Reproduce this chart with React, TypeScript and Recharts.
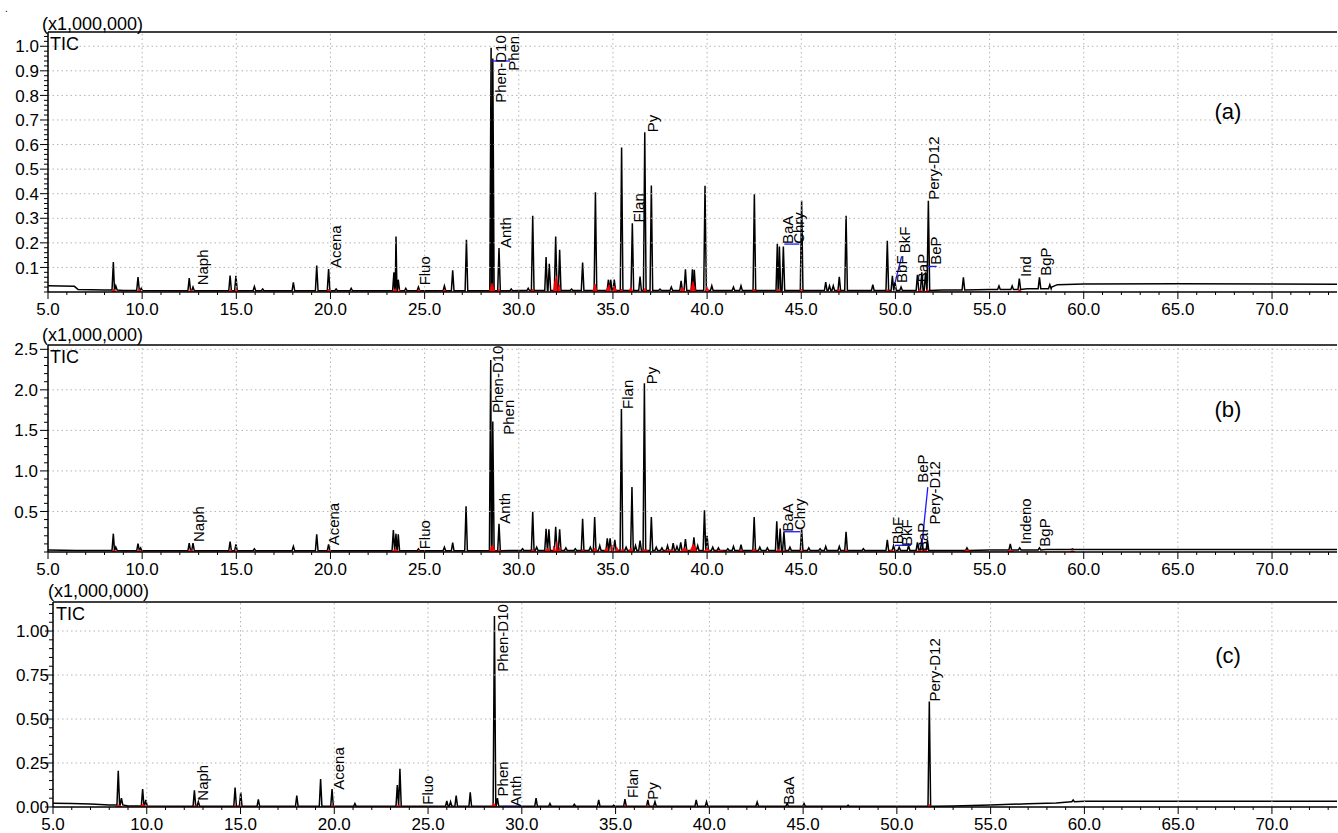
import React from 'react';
import { ComposedChart, Area, XAxis, YAxis, ReferenceLine, Scatter } from 'recharts';

type Pt = [number, number];
type Mound = [number, number, number]; // time, height, half-width
type Lbl = { name: string; t: number; v: number };
type Seg = [Pt, Pt];

const FONT = '"Liberation Sans", Arial, Helvetica, sans-serif';

// ---------- shared x axis ----------
const xMajorTicks = [5, 10, 15, 20, 25, 30, 35, 40, 45, 50, 55, 60, 65, 70];
const xMinorStep = 1;

// ---------- panel (a) ----------
const yTicksA = [0.1, 0.2, 0.3, 0.4, 0.5, 0.6, 0.7, 0.8, 0.9, 1.0];
const baselineA: Pt[] = [
  [5.0, 0.025], [6.4, 0.023], [6.6, 0.01], [8.0, 0.008], [9.0, 0.006], [12, 0.005], [20, 0.005], [30, 0.006],
  [40, 0.006], [50, 0.006], [52.5, 0.008], [55, 0.01], [57, 0.013], [58.3, 0.02], [58.6, 0.03], [60, 0.033],
  [65, 0.034], [70, 0.033], [73.5, 0.032],
];
const peaksA: Pt[] = [
  [8.47, 0.122], [8.6, 0.025], [9.78, 0.061], [9.95, 0.015], [12.5, 0.057], [12.7, 0.02], [14.67, 0.067],
  [14.98, 0.066], [15.96, 0.022], [16.4, 0.012], [18.03, 0.039], [19.27, 0.108], [19.9, 0.093], [20.3, 0.012],
  [21.1, 0.015], [23.37, 0.08], [23.48, 0.226], [23.6, 0.05], [24.0, 0.015], [24.67, 0.02], [26.05, 0.025],
  [26.49, 0.088], [27.22, 0.213], [28.53, 0.994], [28.62, 0.95], [28.95, 0.179], [29.6, 0.012], [30.5, 0.015],
  [30.74, 0.31], [31.45, 0.142], [31.62, 0.115], [31.96, 0.226], [32.17, 0.172], [32.8, 0.012], [33.39, 0.12],
  [34.07, 0.406], [34.76, 0.05], [34.88, 0.05], [35.07, 0.05], [35.46, 0.588], [36.03, 0.28], [36.44, 0.063],
  [36.69, 0.65], [37.04, 0.433], [37.5, 0.012], [38.1, 0.02], [38.62, 0.045], [38.85, 0.092], [39.22, 0.092],
  [39.32, 0.09], [39.89, 0.432], [40.25, 0.025], [41.4, 0.02], [41.8, 0.025], [42.51, 0.398], [43.73, 0.196],
  [43.84, 0.185], [44.05, 0.185], [45.02, 0.371], [46.3, 0.04], [46.5, 0.025], [46.7, 0.025], [47.02, 0.062],
  [47.38, 0.31], [48.8, 0.03], [49.57, 0.208], [49.84, 0.066], [49.98, 0.04], [50.3, 0.02], [51.17, 0.07],
  [51.4, 0.08], [51.6, 0.08], [51.75, 0.371], [53.61, 0.06], [55.5, 0.025], [56.2, 0.025], [56.58, 0.055],
  [57.65, 0.06], [58.2, 0.03],
];
const redA: Mound[] = [
  [8.5, 0.012, 0.12], [9.85, 0.012, 0.12], [12.6, 0.01, 0.12], [14.7, 0.01, 0.1], [15.0, 0.012, 0.1],
  [19.9, 0.012, 0.12], [23.45, 0.014, 0.2], [23.65, 0.01, 0.12], [24.7, 0.01, 0.12], [26.05, 0.01, 0.12],
  [28.58, 0.036, 0.15], [28.95, 0.012, 0.1], [30.74, 0.012, 0.12], [31.9, 0.04, 0.15], [32.02, 0.066, 0.18],
  [32.15, 0.03, 0.12], [34.05, 0.033, 0.12], [34.8, 0.03, 0.2], [35.05, 0.025, 0.2], [35.45, 0.012, 0.1],
  [35.95, 0.02, 0.12], [36.7, 0.015, 0.12], [38.7, 0.02, 0.15], [39.25, 0.043, 0.15], [40.0, 0.02, 0.12],
  [42.5, 0.012, 0.15], [43.8, 0.012, 0.15], [45.0, 0.012, 0.12], [47.0, 0.012, 0.12], [49.6, 0.01, 0.12],
  [51.3, 0.01, 0.15], [51.7, 0.012, 0.12], [56.6, 0.01, 0.12],
];
const labelsA: Lbl[] = [
  { name: 'Naph', t: 13.48, v: 0.027 }, { name: 'Acena', t: 20.56, v: 0.098 }, { name: 'Fluo', t: 25.3, v: 0.027 },
  { name: 'Phen-D10', t: 29.32, v: 0.77 }, { name: 'Phen', t: 30.03, v: 0.9 }, { name: 'Anth', t: 29.59, v: 0.179 },
  { name: 'Flan', t: 36.63, v: 0.283 }, { name: 'Py', t: 37.38, v: 0.65 }, { name: 'BaA', t: 44.54, v: 0.195 },
  { name: 'Chry', t: 45.16, v: 0.196 }, { name: 'BbF', t: 50.62, v: 0.037 }, { name: 'BkF', t: 50.78, v: 0.158 },
  { name: 'BaP', t: 51.73, v: 0.04 }, { name: 'BeP', t: 52.42, v: 0.111 }, { name: 'Pery-D12', t: 52.33, v: 0.375 },
  { name: 'Ind', t: 57.2, v: 0.061 }, { name: 'BgP', t: 58.27, v: 0.066 },
];
const blueA: Seg[] = [
  [[28.56, 0.94], [29.53, 0.94]], [[44.1, 0.195], [44.9, 0.195]], [[49.98, 0.037], [50.33, 0.145]],
  [[51.66, 0.104], [52.19, 0.104]],
];

// ---------- panel (b) ----------
const yTicksB = [0.5, 1.0, 1.5, 2.0, 2.5];
const baselineB: Pt[] = [
  [5, 0.025], [6.5, 0.02], [9, 0.015], [20, 0.015], [30, 0.02], [40, 0.02], [50, 0.02], [55, 0.025],
  [58, 0.03], [73.5, 0.03],
];
const peaksB: Pt[] = [
  [8.47, 0.226], [8.6, 0.06], [9.78, 0.103], [9.92, 0.05], [12.5, 0.108], [12.7, 0.108], [14.67, 0.127],
  [14.98, 0.095], [15.96, 0.04], [18.03, 0.07], [19.27, 0.217], [19.9, 0.095], [23.34, 0.27], [23.48, 0.226],
  [23.6, 0.217], [24.67, 0.04], [26.05, 0.06], [26.49, 0.115], [27.2, 0.565], [28.51, 2.367], [28.62, 1.61],
  [28.95, 0.349], [30.2, 0.04], [30.74, 0.496], [30.95, 0.06], [31.45, 0.287], [31.6, 0.28], [31.96, 0.312],
  [32.17, 0.28], [32.5, 0.05], [33.0, 0.04], [33.39, 0.41], [33.8, 0.06], [34.03, 0.43], [34.3, 0.08],
  [34.7, 0.17], [34.85, 0.17], [35.1, 0.15], [35.45, 1.765], [35.7, 0.06], [36.01, 0.8], [36.2, 0.08],
  [36.44, 0.14], [36.67, 2.08], [37.04, 0.43], [37.3, 0.06], [37.6, 0.05], [37.9, 0.08], [38.2, 0.11],
  [38.4, 0.07], [38.6, 0.12], [38.85, 0.16], [39.3, 0.18], [39.5, 0.08], [39.86, 0.516], [40.0, 0.2],
  [40.3, 0.06], [40.6, 0.05], [41.1, 0.04], [41.4, 0.07], [41.8, 0.09], [42.5, 0.43], [42.8, 0.06],
  [43.2, 0.05], [43.7, 0.38], [43.88, 0.29], [44.08, 0.245], [44.4, 0.06], [45.02, 0.28], [45.4, 0.05],
  [46.0, 0.04], [46.3, 0.07], [47.02, 0.07], [47.38, 0.25], [48.3, 0.04], [49.57, 0.15], [49.9, 0.08],
  [50.2, 0.06], [50.7, 0.08], [51.17, 0.12], [51.4, 0.16], [51.7, 0.15], [53.8, 0.05], [56.1, 0.1],
  [56.6, 0.05], [57.65, 0.05], [59.4, 0.04],
];
const redB: Mound[] = [
  [8.5, 0.025, 0.15], [9.85, 0.025, 0.15], [12.6, 0.025, 0.2], [14.7, 0.025, 0.12], [15.0, 0.02, 0.12],
  [19.9, 0.025, 0.15], [23.45, 0.035, 0.25], [24.7, 0.02, 0.12], [28.6, 0.086, 0.18], [28.97, 0.03, 0.1],
  [30.74, 0.03, 0.15], [31.55, 0.05, 0.2], [31.85, 0.07, 0.15], [32.02, 0.127, 0.2], [32.2, 0.06, 0.15],
  [33.4, 0.03, 0.15], [34.05, 0.05, 0.15], [34.7, 0.06, 0.2], [34.95, 0.086, 0.2], [35.2, 0.06, 0.2],
  [35.5, 0.04, 0.15], [35.95, 0.05, 0.15], [36.7, 0.03, 0.3], [38.0, 0.025, 0.5], [38.8, 0.05, 0.25],
  [39.27, 0.1, 0.2], [40.0, 0.05, 0.2], [40.7, 0.02, 0.4], [41.8, 0.025, 0.2], [42.5, 0.035, 0.2],
  [43.8, 0.035, 0.2], [44.1, 0.025, 0.12], [45.0, 0.025, 0.15], [47.4, 0.025, 0.15], [49.8, 0.025, 0.2],
  [51.3, 0.035, 0.2], [51.6, 0.035, 0.15], [53.8, 0.025, 0.25], [56.1, 0.025, 0.2], [59.4, 0.02, 0.15],
];
const labelsB: Lbl[] = [
  { name: 'Naph', t: 13.27, v: 0.123 }, { name: 'Acena', t: 20.47, v: 0.082 }, { name: 'Fluo', t: 25.3, v: 0.033 },
  { name: 'Phen-D10', t: 29.15, v: 1.713 }, { name: 'Phen', t: 29.73, v: 1.446 }, { name: 'Anth', t: 29.55, v: 0.349 },
  { name: 'Flan', t: 36.05, v: 1.765 }, { name: 'Py', t: 37.34, v: 2.07 }, { name: 'BaA', t: 44.55, v: 0.25 },
  { name: 'Chry', t: 45.22, v: 0.27 }, { name: 'BbF', t: 50.39, v: 0.095 }, { name: 'BkF', t: 50.89, v: 0.074 },
  { name: 'BaP', t: 51.73, v: 0.012 }, { name: 'BeP', t: 51.75, v: 0.853 }, { name: 'Pery-D12', t: 52.39, v: 0.34 },
  { name: 'Indeno', t: 57.2, v: 0.095 }, { name: 'BgP', t: 58.23, v: 0.066 },
];
const blueB: Seg[] = [
  [[44.05, 0.25], [44.94, 0.25]], [[49.98, 0.082], [50.83, 0.082]], [[51.4, 0.074], [51.72, 0.8]],
];

// ---------- panel (c) ----------
const yTicksC = [0.0, 0.25, 0.5, 0.75, 1.0];
const baselineC: Pt[] = [
  [5, 0.022], [6, 0.02], [7, 0.017], [8, 0.012], [9, 0.006], [12, 0.004], [30, 0.004], [52, 0.004], [53, 0.006],
  [55, 0.012], [57, 0.018], [58.5, 0.023], [59.3, 0.03], [60, 0.032], [65, 0.033], [70, 0.032], [73.5, 0.032],
];
const peaksC: Pt[] = [
  [8.48, 0.206], [8.65, 0.05], [9.78, 0.102], [9.95, 0.04], [12.54, 0.095], [12.75, 0.03], [14.71, 0.11],
  [15.01, 0.083], [15.95, 0.043], [18.0, 0.065], [19.27, 0.159], [19.88, 0.102], [21.1, 0.02], [23.36, 0.125],
  [23.5, 0.217], [26.0, 0.035], [26.2, 0.03], [26.5, 0.065], [27.25, 0.083], [28.54, 1.085], [28.7, 0.05],
  [30.76, 0.05], [31.5, 0.02], [32.8, 0.015], [34.1, 0.04], [34.9, 0.01], [35.5, 0.045], [36.72, 0.04],
  [37.1, 0.03], [39.3, 0.04], [39.85, 0.03], [42.55, 0.028], [44.15, 0.02], [45.05, 0.02], [47.4, 0.01],
  [51.73, 0.599], [59.4, 0.04],
];
const redC: Mound[] = [
  [8.5, 0.012, 0.2], [9.8, 0.016, 0.2], [12.6, 0.01, 0.15], [14.7, 0.01, 0.12], [15.0, 0.01, 0.12],
  [19.9, 0.01, 0.12], [23.45, 0.012, 0.2], [28.5, 0.022, 0.15], [35.5, 0.01, 0.12], [36.7, 0.01, 0.12],
  [51.73, 0.014, 0.12],
];
const labelsC: Lbl[] = [
  { name: 'Naph', t: 13.28, v: 0.036 }, { name: 'Acena', t: 20.54, v: 0.098 }, { name: 'Fluo', t: 25.25, v: 0.013 },
  { name: 'Phen-D10', t: 29.28, v: 0.769 }, { name: 'Phen', t: 29.25, v: 0.06 }, { name: 'Anth', t: 29.96, v: 0.003 },
  { name: 'Flan', t: 36.18, v: 0.051 }, { name: 'Py', t: 37.25, v: 0.041 }, { name: 'BaA', t: 44.53, v: 0.013 },
  { name: 'Pery-D12', t: 52.32, v: 0.599 },
];
const blueC: Seg[] = [[[29.0, 0.003], [29.9, 0.003]]];

// ---------- helpers ----------
function buildTrace(baseline: Pt[], peaks: Pt[], w: number) {
  const baseAt = (t: number) => {
    let v = baseline[0][1];
    for (const [bt, bv] of baseline) if (bt <= t) v = bv;
    return v;
  };
  const pts: { t: number; v: number }[] = [];
  baseline.forEach(([t, v]) => {
    if (!peaks.some(([pt]) => Math.abs(pt - t) < w)) pts.push({ t, v });
  });
  peaks.forEach(([t, h]) => {
    const b = baseAt(t);
    pts.push({ t: t - w, v: b }, { t, v: h }, { t: t + w, v: b });
  });
  pts.sort((a, b) => a.t - b.t);
  return pts;
}

function buildRed(mounds: Mound[]) {
  const pts: { t: number; v: number }[] = [];
  mounds.forEach(([t, h, w]) => {
    pts.push({ t: t - w, v: 0 }, { t, v: h }, { t: t + w, v: 0 });
  });
  pts.sort((a, b) => a.t - b.t);
  return pts;
}

function steps(from: number, to: number, step: number) {
  const out: number[] = [];
  for (let i = 0; from + i * step <= to + 1e-9; i++) out.push(Math.round((from + i * step) * 1000) / 1000);
  return out;
}

const LabelShape = (props: any) => {
  const { cx, cy, payload } = props;
  if (cx == null || cy == null) return null;
  return (
    <text x={cx} y={cy} transform={`rotate(-90 ${cx} ${cy})`} fontSize={15} fontFamily={FONT} fill="#000">
      {payload.name}
    </text>
  );
};

type Cfg = {
  top: number; height: number; marginTop: number; xAxisHeight: number; yAxisWidth: number;
  xMax: number; yMax: number; yTicks: number[]; yMinor: number; decimals: number; showZero: boolean;
  labelGap: number; baseline: Pt[]; peaks: Pt[]; red: Mound[]; labels: Lbl[]; blue: Seg[];
};

function Panel({ cfg }: { cfg: Cfg }) {
  const trace = buildTrace(cfg.baseline, cfg.peaks, 0.07);
  const red = buildRed(cfg.red);
  const xTicks = steps(5, cfg.xMax, xMinorStep);
  const yTicks = steps(0, cfg.yMax, cfg.yMinor);
  const isMajorY = (v: number) => cfg.yTicks.some((m) => Math.abs(m - v) < 1e-6);

  const XTick = (p: any) => {
    const { x, y, payload } = p;
    const v = payload.value as number;
    const major = xMajorTicks.some((m) => Math.abs(m - v) < 1e-6);
    return (
      <g>
        <line x1={x} x2={x} y1={y} y2={y + (major ? 7 : 3)} stroke="#000" strokeWidth={1} />
        {major && (
          <text x={x} y={y + 23} textAnchor="middle" fontSize={17} fontFamily={FONT} fill="#000">
            {v.toFixed(1)}
          </text>
        )}
      </g>
    );
  };
  const YTick = (p: any) => {
    const { x, y, payload } = p;
    const v = payload.value as number;
    const major = isMajorY(v) && (v !== 0 || cfg.showZero);
    return (
      <g>
        <line x1={x - (major ? 8 : 4)} x2={x} y1={y} y2={y} stroke="#000" strokeWidth={1} />
        {major && (
          <text x={x - cfg.labelGap} y={y} dy="0.36em" textAnchor="end" fontSize={17} fontFamily={FONT} fill="#000">
            {v.toFixed(cfg.decimals)}
          </text>
        )}
      </g>
    );
  };

  return (
    <div style={{ position: 'absolute', left: 0, top: cfg.top }}>
      <ComposedChart width={1338} height={cfg.height} margin={{ top: cfg.marginTop, right: 1, left: 0, bottom: 0 }}>
        <XAxis
          type="number" dataKey="t" domain={[5, cfg.xMax]} allowDataOverflow ticks={xTicks} interval={0}
          tickLine={false} tickSize={0} tickMargin={0} tick={XTick} height={cfg.xAxisHeight}
          axisLine={{ stroke: '#000', strokeWidth: 1.5 }}
        />
        <YAxis
          type="number" domain={[0, cfg.yMax]} allowDataOverflow ticks={yTicks} interval={0}
          tickLine={false} tickSize={0} tickMargin={0} tick={YTick} width={cfg.yAxisWidth}
          axisLine={{ stroke: '#000', strokeWidth: 1.5 }}
        />
        {xMajorTicks.map((v) => (
          <ReferenceLine key={'gx' + v} x={v} stroke="#b4b4b4" strokeDasharray="1.5 3" strokeWidth={1} />
        ))}
        {cfg.yTicks.filter((v) => v > 0).map((v) => (
          <ReferenceLine key={'gy' + v} y={v} stroke="#b4b4b4" strokeDasharray="1.5 3" strokeWidth={1} />
        ))}
        <ReferenceLine y={cfg.yMax} stroke="#000" strokeWidth={1.5} />
        <Area
          data={trace} dataKey="v" type="linear" stroke="#000" strokeWidth={1.5} fill="none" fillOpacity={0}
          baseValue={0} dot={false} activeDot={false} isAnimationActive={false}
        />
        <Area
          data={red} dataKey="v" type="linear" fill="#ff0000" fillOpacity={1} stroke="#ff0000" strokeWidth={0.8}
          baseValue={0} isAnimationActive={false} dot={false} activeDot={false}
        />
        {cfg.blue.map((s, i) => (
          <ReferenceLine
            key={'b' + i} segment={[{ x: s[0][0], y: s[0][1] }, { x: s[1][0], y: s[1][1] }]}
            stroke="#1a1aff" strokeWidth={1.3}
          />
        ))}
        <Scatter data={cfg.labels} dataKey="v" shape={LabelShape} isAnimationActive={false} />
      </ComposedChart>
    </div>
  );
}

const panelA: Cfg = {
  top: 0, height: 320, marginTop: 32, xAxisHeight: 28, yAxisWidth: 48, xMax: 73.45, yMax: 1.058,
  yTicks: yTicksA, yMinor: 0.02, decimals: 1, showZero: false, labelGap: 9,
  baseline: baselineA, peaks: peaksA, red: redA, labels: labelsA, blue: blueA,
};
const panelB: Cfg = {
  top: 320, height: 260, marginTop: 25, xAxisHeight: 28, yAxisWidth: 48, xMax: 73.45, yMax: 2.553,
  yTicks: yTicksB, yMinor: 0.1, decimals: 1, showZero: false, labelGap: 10,
  baseline: baselineB, peaks: peaksB, red: redB, labels: labelsB, blue: blueB,
};
const panelC: Cfg = {
  top: 580, height: 253, marginTop: 22, xAxisHeight: 26, yAxisWidth: 53, xMax: 73.47, yMax: 1.165,
  yTicks: yTicksC, yMinor: 0.05, decimals: 2, showZero: true, labelGap: 4,
  baseline: baselineC, peaks: peaksC, red: redC, labels: labelsC, blue: blueC,
};

export default function App() {
  const txt = { fontFamily: FONT, fill: '#000' } as const;
  return (
    <div style={{ position: 'absolute', left: 0, top: 0, width: 1338, height: 833, background: '#fff', overflow: 'hidden' }}>
      <Panel cfg={panelA} />
      <Panel cfg={panelB} />
      <Panel cfg={panelC} />
      <svg width={1338} height={833} style={{ position: 'absolute', left: 0, top: 0, pointerEvents: 'none' }}>
        <text x={5} y={12} fontSize={10} {...txt}>.</text>
        <text x={42} y={30} fontSize={18} {...txt}>(x1,000,000)</text>
        <text x={42} y={341} fontSize={18} {...txt}>(x1,000,000)</text>
        <text x={48} y={597} fontSize={18} {...txt}>(x1,000,000)</text>
        <text x={50} y={50} fontSize={18} {...txt}>TIC</text>
        <text x={50} y={363} fontSize={18} {...txt}>TIC</text>
        <text x={56} y={620} fontSize={18} {...txt}>TIC</text>
        <text x={1228} y={119} fontSize={22} textAnchor="middle" {...txt}>(a)</text>
        <text x={1228} y={417} fontSize={22} textAnchor="middle" {...txt}>(b)</text>
        <text x={1228} y={663} fontSize={22} textAnchor="middle" {...txt}>(c)</text>
      </svg>
    </div>
  );
}
